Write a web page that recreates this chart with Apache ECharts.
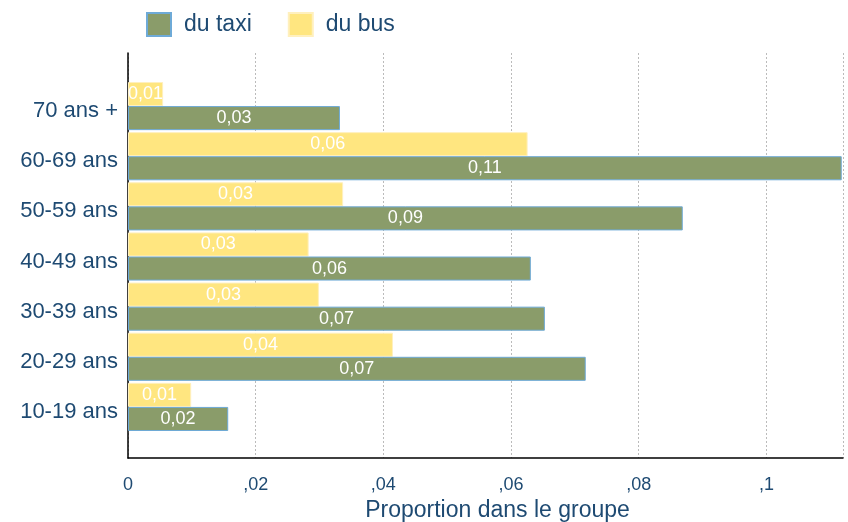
<!DOCTYPE html>
<html>
<head>
<meta charset="utf-8">
<script src="https://cdn.jsdelivr.net/npm/echarts@6/dist/echarts.min.js"></script>
<style>
html, body { margin: 0; padding: 0; background: #fff; }
#main { width: 848px; height: 522px; }
</style>
</head>
<body>
<div id="main"></div>
<script>
// --- données ---
var ageGroups = ['10-19 ans', '20-29 ans', '30-39 ans', '40-49 ans', '50-59 ans', '60-69 ans', '70 ans +'];
var taxiValues = [0.0157, 0.0717, 0.0653, 0.0631, 0.0869, 0.1118, 0.0332];
var busValues = [0.0099, 0.0415, 0.0299, 0.0283, 0.0337, 0.0626, 0.0055];
var xTicks = [0, 0.02, 0.04, 0.06, 0.08, 0.1];

var textBlue = 'rgb(30, 74, 114)';
var fontName = 'Liberation Sans';

function tickFmt(v) {
	if (v === 0) return '0';
	return String(+v.toFixed(2)).replace('0.', ',');
}
function barFmt(p) {
	return p.value.toFixed(2).replace('.', ',');
}

var myChart = echarts.init(document.getElementById('main'));
myChart.setOption({
	animation: false,
	textStyle: { fontFamily: fontName },
	legend: {
		data: ['du taxi', 'du bus'],
		icon: 'rect',
		left: 141,
		top: 7,
		itemWidth: 24,
		itemHeight: 23,
		itemGap: 36,
		textStyle: {
			color: textBlue,
			fontSize: 23,
			fontFamily: fontName,
			padding: [0, 0, 0, 8]
		}
	},
	grid: [
		// barres
		{ left: 128, right: 5, top: 81, height: 351, outerBoundsMode: 'none' },
		// cadre + axe des x
		{ left: 128, right: 5, top: 53, height: 405, outerBoundsMode: 'none' }
	],
	xAxis: [
		{
			gridIndex: 0,
			type: 'value',
			min: 0,
			max: 0.112,
			interval: 0.02,
			show: false
		},
		{
			gridIndex: 1,
			type: 'value',
			min: 0,
			max: 0.112,
			interval: 0.02,
			name: 'Proportion dans le groupe',
			nameLocation: 'middle',
			nameGap: 41,
			nameTextStyle: {
				color: textBlue,
				fontSize: 23,
				fontFamily: fontName,
				padding: [0, 0, 0, 24]
			},
			axisLine: { show: true, lineStyle: { color: '#000', width: 1.5 } },
			axisTick: { show: false },
			axisLabel: {
				color: textBlue,
				fontSize: 18,
				fontFamily: fontName,
				margin: 18,
				showMaxLabel: false,
				formatter: tickFmt
			},
			splitLine: {
				show: true,
				lineStyle: { color: '#bbbbbb', type: [2, 2], width: 1 }
			}
		}
	],
	yAxis: [
		{
			gridIndex: 0,
			type: 'category',
			data: ageGroups,
			axisLine: { show: false },
			axisTick: { show: false },
			axisLabel: {
				color: textBlue,
				fontSize: 22,
				fontFamily: fontName,
				margin: 10,
				verticalAlign: 'top',
				lineHeight: 10
			}
		},
		{
			gridIndex: 1,
			type: 'value',
			min: 0,
			max: 1,
			axisLine: { show: true, lineStyle: { color: '#000', width: 1.5 } },
			axisTick: { show: false },
			axisLabel: { show: false },
			splitLine: { show: false }
		}
	],
	series: [
		{
			name: 'du bus',
			type: 'bar',
			xAxisIndex: 0,
			yAxisIndex: 0,
			data: busValues,
			barGap: '0%',
			barCategoryGap: '4%',
			itemStyle: {
				color: 'rgb(255, 230, 128)',
				borderColor: 'rgb(255, 240, 190)',
				borderWidth: 1
			},
			label: {
				show: true,
				position: 'inside',
				color: '#fff',
				fontSize: 18,
				fontFamily: fontName,
				formatter: barFmt
			}
		},
		{
			name: 'du taxi',
			type: 'bar',
			xAxisIndex: 0,
			yAxisIndex: 0,
			data: taxiValues,
			barGap: '0%',
			barCategoryGap: '4%',
			itemStyle: {
				color: 'rgb(138, 156, 106)',
				borderColor: 'rgb(110, 170, 215)',
				borderWidth: 1
			},
			label: {
				show: true,
				position: 'inside',
				color: '#fff',
				fontSize: 18,
				fontFamily: fontName,
				formatter: barFmt
			}
		}
	]
});
</script>
</body>
</html>
